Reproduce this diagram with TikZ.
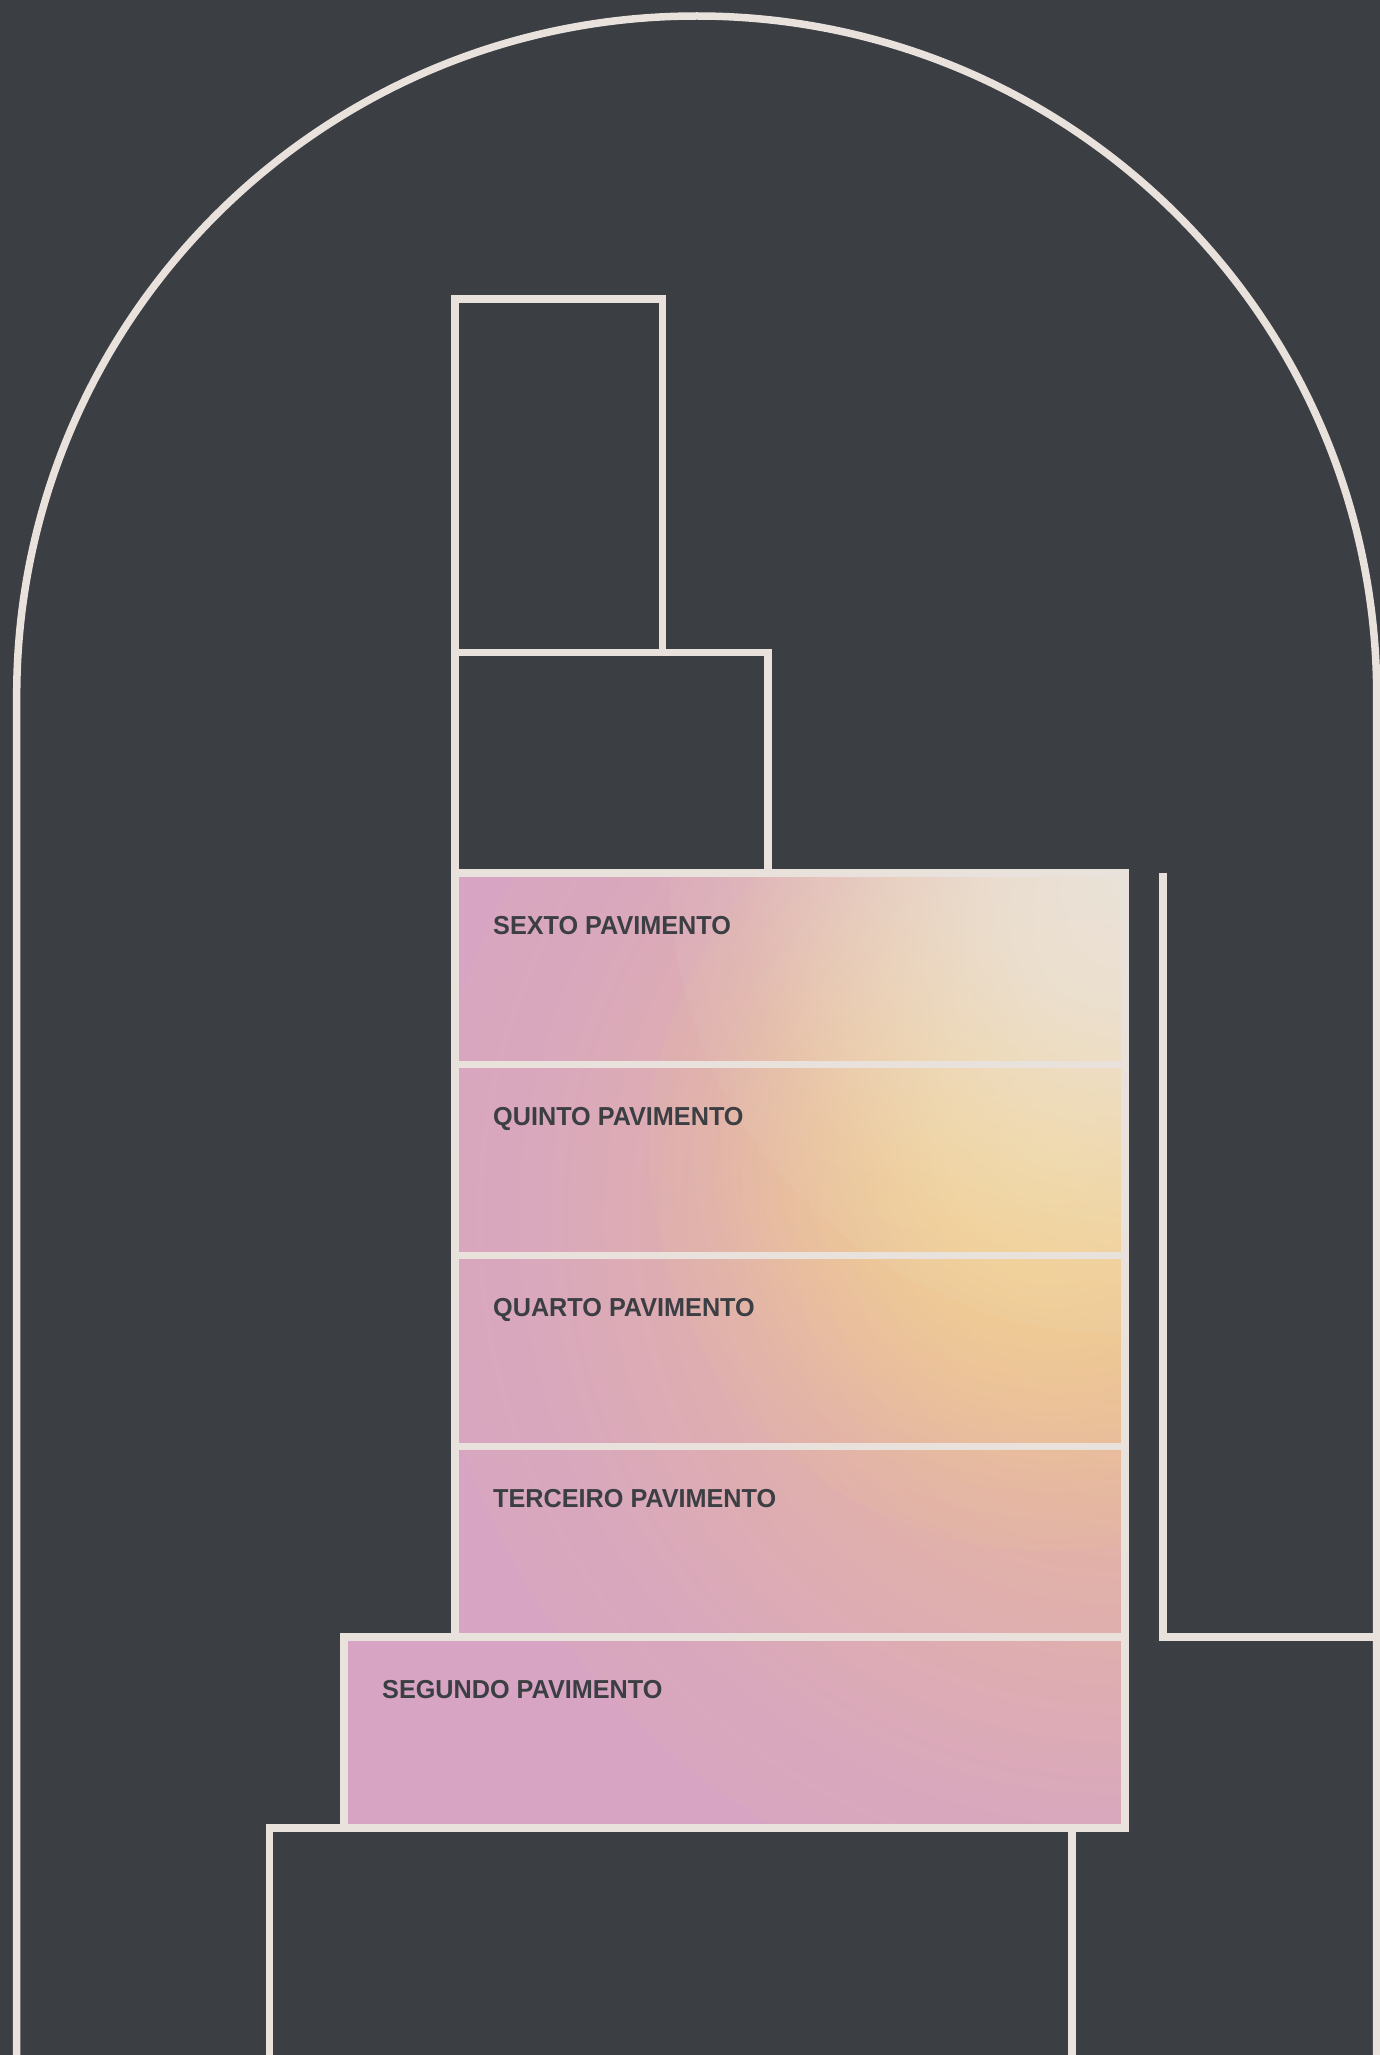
\documentclass[tikz,border=0pt]{standalone}
\usepackage{fontspec}
\newfontfamily\labelfont{Liberation Sans}[FakeStretch=0.97]
\usetikzlibrary{fadings}
\pgfdeclareradialshading{glowshade}{\pgfpoint{0bp}{0bp}}{color(0bp)=(white); color(7.09bp)=(white!85!black); color(14.17bp)=(white!50!black); color(21.26bp)=(white!15!black); color(28.35bp)=(black); color(50bp)=(black)}
\pgfdeclarefading{glowfade}{\pgfuseshading{glowshade}}
\definecolor{bgc}{HTML}{3B3E42}
\definecolor{linec}{HTML}{E8E1DC}
\definecolor{pinkbase}{HTML}{D7A5C3}
\definecolor{peachc}{HTML}{E9BA98}
\definecolor{yellowc}{HTML}{F4D492}
\definecolor{creamc}{HTML}{EBE3D8}
\definecolor{textc}{HTML}{3B3E42}
\tikzset{
  ln/.style={draw=linec, line width=7.5pt, line join=miter},
  floorlabel/.style={anchor=base west, inner sep=0pt, text=textc,
    font=\labelfont\bfseries\fontsize{26}{30}\selectfont}
}
\begin{document}
\begin{tikzpicture}[x=1pt,y=-1pt]
\fill[bgc] (0,0) rectangle (1380,2055);
\useasboundingbox (0,0) rectangle (1380,2055);

% gradient fill of the floors
\begin{scope}
\clip (455,873) -- (1125,873) -- (1125,1828) -- (344,1828) -- (344,1637) -- (455,1637) -- cycle;
\fill[pinkbase] (300,850) rectangle (1150,1850);
\fill[peachc, path fading=glowfade] (1125,1220) circle (700);
\fill[yellowc, path fading=glowfade] (1050,1150) circle (400);
\fill[creamc, path fading=glowfade] (1130,875) circle (460);
\end{scope}

% arch
\draw[ln] (16.7,2059) -- (16.7,696) arc[start angle=180, end angle=360, radius=680] -- (1376.7,2059) -- cycle;

% upper boxes
\draw[ln] (455,299) rectangle (662.5,652.5);
\draw[ln] (455,652.5) rectangle (768,873);

% floors
\draw[ln] (455,873) rectangle (1125,1064.5);
\draw[ln] (455,1064.5) rectangle (1125,1255.5);
\draw[ln] (455,1255.5) rectangle (1125,1446.3);
\draw[ln] (455,1446.3) rectangle (1125,1637);
\draw[ln] (344,1637) rectangle (1125,1828);

% bottom box
\draw[ln] (269.5,1828) rectangle (1072,2059);

% right element
\draw[ln] (1163,873) -- (1163,1637) -- (1376.7,1637);

% labels
\node[floorlabel] (sexto) at (493,934) {SEXTO PAVIMENTO};
\node[floorlabel] (quinto) at (493,1125) {QUINTO PAVIMENTO};
\node[floorlabel] (quarto) at (493,1316) {QUARTO PAVIMENTO};
\node[floorlabel] (terceiro) at (493,1507) {TERCEIRO PAVIMENTO};
\node[floorlabel] (segundo) at (382,1698) {SEGUNDO PAVIMENTO};
\end{tikzpicture}
\end{document}
